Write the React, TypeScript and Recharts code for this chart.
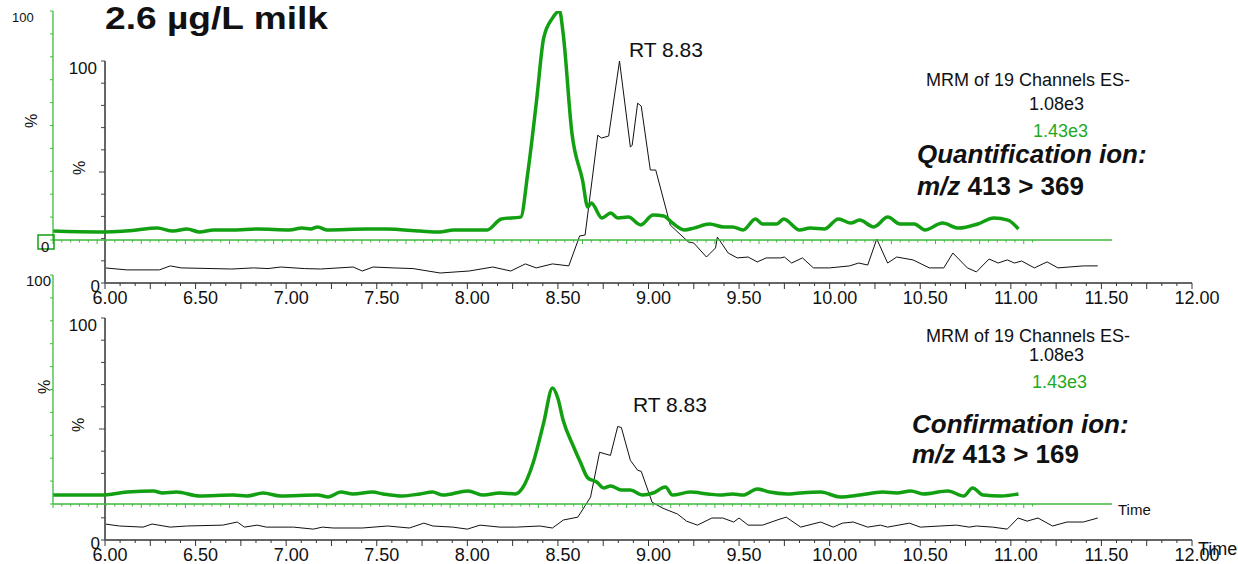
import { LineChart, Line, XAxis, YAxis } from "recharts";

const FONT = "'Liberation Sans', Arial, Helvetica, sans-serif";
const GREEN_TRACE = "#12a012";
const GREEN_AXIS = "#3dba3d";
const GREEN_TEXT = "#1faa1f";

// [time (min), % of base peak]
const quantSample: [number, number][] = [
  [6.0, 6.8], [6.12, 5.9], [6.3, 5.9], [6.36, 7.7], [6.42, 6.8], [6.7, 6.3], [6.82, 6.8],
  [6.9, 6.5], [6.97, 7.2], [7.1, 6.5], [7.19, 6.3], [7.37, 7.2], [7.42, 5.4], [7.48, 7.2],
  [7.59, 6.8], [7.7, 6.5], [7.85, 4.5], [8.01, 5.4], [8.14, 7.2], [8.24, 5.4], [8.32, 8.6],
  [8.38, 6.8], [8.47, 8.6], [8.56, 7.7], [8.62, 21.2], [8.65, 21.6], [8.72, 66.6], [8.74, 65.3],
  [8.78, 66.2], [8.84, 100], [8.9, 61.2], [8.91, 62.1], [8.94, 81], [8.96, 79.7], [9.01, 50.9],
  [9.04, 50.9], [9.12, 26.1], [9.22, 18.5], [9.25, 18], [9.32, 11.7], [9.37, 15.8], [9.38, 20.7],
  [9.44, 13.5], [9.49, 11.3], [9.55, 11.7], [9.6, 9.5], [9.65, 11.3], [9.73, 11.3], [9.75, 11.7],
  [9.79, 9.0], [9.85, 11.3], [9.91, 6.8], [10.0, 6.8], [10.11, 7.7], [10.16, 9.0], [10.21, 8.1],
  [10.26, 19.8], [10.32, 9.0], [10.37, 11.7], [10.46, 10.4], [10.55, 6.8], [10.63, 6.8],
  [10.68, 13.5], [10.76, 6.8], [10.81, 5.0], [10.88, 10.8], [10.93, 9.0], [10.98, 10.4],
  [11.02, 9.0], [11.06, 9.9], [11.13, 6.8], [11.2, 9.5], [11.26, 6.8], [11.4, 7.7], [11.48, 7.7],
];

const quantOverlay: [number, number][] = [
  [6.0, 3.9], [6.25, 3.5], [6.45, 4.2], [6.59, 5.2], [6.68, 3.9], [6.76, 4.8], [6.83, 3.5],
  [6.91, 4.4], [7.02, 4.4], [7.16, 4.8], [7.34, 4.4], [7.41, 5.2], [7.46, 4.8], [7.5, 5.7],
  [7.55, 4.4], [7.78, 4.8], [7.89, 4.8], [8.08, 3.9], [8.19, 3.5], [8.27, 4.4], [8.46, 4.4],
  [8.54, 9.2], [8.65, 10], [8.69, 29.3], [8.74, 61.1], [8.78, 88.2], [8.83, 96.9], [8.87, 100],
  [8.89, 90.4], [8.94, 46.7], [9.0, 26.2], [9.03, 14.4], [9.05, 16.2], [9.11, 9.6], [9.16, 11.8],
  [9.2, 9.6], [9.26, 10], [9.33, 6.6], [9.4, 10.9], [9.46, 10.5], [9.51, 7.4], [9.58, 4.4],
  [9.63, 5.2], [9.72, 7], [9.8, 5.7], [9.85, 5.7], [9.91, 4.4], [9.98, 9.2], [10.02, 7],
  [10.1, 7], [10.14, 9.2], [10.23, 4.4], [10.29, 5.2], [10.37, 4.8], [10.45, 9.2], [10.52, 7.4],
  [10.57, 8.7], [10.65, 5.7], [10.73, 10], [10.8, 7], [10.88, 7], [10.94, 4.4], [11.04, 7.4],
  [11.13, 5.2], [11.24, 7], [11.33, 9.6], [11.41, 8.7], [11.47, 4.8],
];

const confSample: [number, number][] = [
  [6.0, 7.2], [6.08, 6.3], [6.21, 5.8], [6.26, 7.2], [6.36, 5.8], [6.45, 6.3], [6.65, 6.7],
  [6.73, 8.1], [6.77, 5.8], [6.84, 6.7], [6.89, 5.8], [7.04, 5.8], [7.15, 4.9], [7.2, 5.8],
  [7.26, 5.4], [7.42, 5.4], [7.56, 6.3], [7.68, 5.4], [7.76, 7.6], [7.81, 6.3], [7.92, 5.8],
  [8.0, 4.9], [8.07, 6.7], [8.18, 5.8], [8.27, 5.8], [8.4, 6.3], [8.47, 5.4], [8.53, 9],
  [8.61, 10.3], [8.68, 19.3], [8.73, 39.5], [8.79, 38.1], [8.83, 51.1], [8.85, 50.7],
  [8.9, 35.9], [8.94, 31.4], [8.96, 30.9], [9.02, 17], [9.08, 14.3], [9.16, 11.7], [9.21, 8.5],
  [9.27, 6.7], [9.35, 9.9], [9.41, 9.9], [9.47, 8.1], [9.5, 9.9], [9.55, 6.7], [9.63, 6.7],
  [9.71, 9], [9.76, 10.3], [9.84, 5.8], [9.95, 8.1], [10.02, 5.8], [10.07, 7.6], [10.13, 8.1],
  [10.21, 5.8], [10.28, 6.7], [10.32, 5.8], [10.44, 7.6], [10.5, 5.8], [10.61, 6.3],
  [10.7, 6.7], [10.77, 5.8], [10.81, 6.3], [10.9, 5.8], [10.98, 4.9], [11.04, 9.9],
  [11.09, 8.5], [11.15, 9.9], [11.23, 6.3], [11.31, 8.1], [11.4, 8.1], [11.48, 9.9],
];

const confOverlay: [number, number][] = [
  [6.0, 3.9], [6.1, 3.9], [6.27, 3.9], [6.42, 5.2], [6.57, 5.7], [6.62, 4.8], [6.7, 5.2],
  [6.83, 3.5], [7.02, 3.9], [7.1, 3.5], [7.19, 4.8], [7.29, 3.5], [7.5, 3.9], [7.56, 3.1],
  [7.63, 5.2], [7.7, 4.4], [7.81, 5.2], [7.87, 4.4], [7.98, 3.5], [8.08, 4.4], [8.15, 5.2],
  [8.21, 3.9], [8.35, 5.7], [8.44, 3.9], [8.53, 4.8], [8.62, 4.4], [8.66, 7], [8.72, 17.9],
  [8.78, 35.4], [8.83, 50.7], [8.86, 46.3], [8.89, 36.7], [8.95, 24.9], [8.99, 17.9],
  [9.03, 11.4], [9.08, 9.6], [9.12, 7], [9.16, 7.9], [9.22, 6.1], [9.27, 6.1], [9.34, 3.9],
  [9.4, 4.8], [9.47, 7.4], [9.51, 3.9], [9.61, 5.2], [9.71, 4.4], [9.78, 3.9], [9.85, 4.4],
  [9.91, 3.9], [9.99, 6.6], [10.06, 5.2], [10.16, 4.4], [10.23, 4.8], [10.35, 5.2],
  [10.46, 3.1], [10.57, 3.9], [10.7, 5.2], [10.78, 4.8], [10.86, 5.7], [10.93, 4.4],
  [11.07, 5.7], [11.16, 3.5], [11.21, 7], [11.27, 3.9], [11.37, 3.5], [11.47, 4.4],
];

const timeLabels = ["6.00", "6.50", "7.00", "7.50", "8.00", "8.50", "9.00", "9.50", "10.00", "10.50", "11.00", "11.50", "12.00"];
const pctTicks = [0, 10, 20, 30, 40, 50, 60, 70, 80, 90, 100];

// minor tick positions on the two time axes
const sampleTimeTicks = Array.from({ length: 73 }, (_, i) => 6 + i / 12);
const overlayTimeTicks = Array.from({ length: 112 }, (_, i) => 6 + i / 20);

const M = 40;
const AX = 30;

const SampleXTick = (p: any) => {
  const i = Math.round((p.payload.value - 6) * 12);
  const major = i % 3 === 0;
  return (
    <g>
      <line x1={p.x} x2={p.x} y1={p.y} y2={p.y + (major ? 6 : 3)} stroke="#333" strokeWidth={1} />
      {i % 6 === 0 && (
        <text x={p.x + 5} y={p.y + 21} textAnchor="middle" fontSize={18} fontFamily={FONT} fill="#111">
          {timeLabels[i / 6]}
        </text>
      )}
    </g>
  );
};

const OverlayXTick = (p: any) => {
  const i = Math.round((p.payload.value - 6) * 20);
  return <line x1={p.x} x2={p.x} y1={p.y} y2={p.y + (i % 5 === 0 ? 4 : 2.5)} stroke={GREEN_AXIS} strokeWidth={1} />;
};

const SampleYTick = (p: any) => {
  const v = p.payload.value;
  return (
    <g>
      <line x1={p.x} x2={p.x - (v === 50 ? 6 : 4)} y1={p.y} y2={p.y} stroke="#444" strokeWidth={1} />
      {v === 100 && (
        <text x={p.x - 8} y={p.y + 13} textAnchor="end" fontSize={17} fontFamily={FONT} fill="#111">100</text>
      )}
      {v === 0 && (
        <text x={p.x - 5} y={p.y + 9} textAnchor="end" fontSize={17} fontFamily={FONT} fill="#111">0</text>
      )}
    </g>
  );
};

const OverlayYTick = (p: any) => (
  <line x1={p.x} x2={p.x - 3} y1={p.y} y2={p.y} stroke={GREEN_AXIS} strokeWidth={1} />
);

type Box = { x: number; y: number; w: number; h: number };

function Trace({ data, box, sample }: { data: [number, number][]; box: Box; sample: boolean }) {
  const rows = data.map(([t, v]) => ({ t, v }));
  return (
    <div style={{ position: "absolute", left: box.x - M, top: box.y - M }}>
      <LineChart
        width={box.w + 2 * M}
        height={box.h + 2 * M}
        data={rows}
        margin={{ top: M, right: M, bottom: M - AX, left: M - AX }}
        style={{ overflow: "visible" }}
      >
        <XAxis
          dataKey="t"
          type="number"
          domain={[6, 12]}
          allowDataOverflow
          ticks={sample ? sampleTimeTicks : overlayTimeTicks}
          interval={0}
          height={AX}
          tickSize={0}
          tickMargin={0}
          tickLine={false}
          axisLine={{ stroke: sample ? "#333" : GREEN_AXIS, strokeWidth: 1.3 }}
          tick={sample ? SampleXTick : OverlayXTick}
        />
        <YAxis
          type="number"
          domain={[0, 100]}
          allowDataOverflow
          ticks={pctTicks}
          interval={0}
          width={AX}
          tickSize={0}
          tickMargin={0}
          tickLine={false}
          axisLine={{ stroke: sample ? "#666" : GREEN_AXIS, strokeWidth: sample ? 2 : 1.3 }}
          tick={sample ? SampleYTick : OverlayYTick}
        />
        <Line
          dataKey="v"
          type={sample ? "linear" : "monotone"}
          stroke={sample ? "#111" : GREEN_TRACE}
          strokeWidth={sample ? 1 : 3.5}
          dot={false}
          isAnimationActive={false}
        />
      </LineChart>
    </div>
  );
}

const txt = { fontFamily: FONT, fill: "#111" };

export default function App() {
  return (
    <div style={{ position: "absolute", left: 0, top: 0, width: 1238, height: 564, background: "#fff", overflow: "hidden" }}>
      <Trace data={quantSample} box={{ x: 105, y: 61, w: 1087, h: 222 }} sample />
      <Trace data={quantOverlay} box={{ x: 53, y: 11, w: 1059, h: 229 }} sample={false} />
      <Trace data={confSample} box={{ x: 105, y: 318, w: 1087, h: 222 }} sample />
      <Trace data={confOverlay} box={{ x: 53, y: 275, w: 1059, h: 229 }} sample={false} />

      <svg width={1238} height={564} style={{ position: "absolute", left: 0, top: 0, pointerEvents: "none" }}>
        <text x={105} y={29} fontSize={32} fontWeight="bold" textLength={223} lengthAdjust="spacingAndGlyphs" {...txt}>2.6 µg/L milk</text>

        <text x={12} y={22} fontSize={13} {...txt}>100</text>
        <rect x={38} y={235} width={16} height={14} fill="none" stroke={GREEN_TRACE} strokeWidth={1.5} />
        <text x={41} y={252} fontSize={15} {...txt}>0</text>
        <text x={26} y={286} fontSize={15} {...txt}>100</text>

        <text transform="translate(37,121) rotate(-90)" textAnchor="middle" fontSize={16} {...txt}>%</text>
        <text transform="translate(85,168) rotate(-90)" textAnchor="middle" fontSize={16} {...txt}>%</text>
        <text transform="translate(50,387) rotate(-90)" textAnchor="middle" fontSize={16} {...txt}>%</text>
        <text transform="translate(84,425) rotate(-90)" textAnchor="middle" fontSize={16} {...txt}>%</text>

        <text x={629} y={57} fontSize={21} {...txt}>RT 8.83</text>
        <text x={633} y={412} fontSize={21} {...txt}>RT 8.83</text>

        <text x={926} y={86} fontSize={18} {...txt}>MRM of 19 Channels ES-</text>
        <text x={1029} y={110} fontSize={18} {...txt}>1.08e3</text>
        <text x={1033} y={137} fontSize={18} fontFamily={FONT} fill={GREEN_TEXT}>1.43e3</text>
        <text x={917} y={163} fontSize={26} fontWeight="bold" fontStyle="italic" {...txt}>Quantification ion:</text>
        <text x={917} y={195} fontSize={26} fontWeight="bold" {...txt}>
          <tspan fontStyle="italic">m/z</tspan> 413 &gt; 369
        </text>

        <text x={926} y={342} fontSize={18} {...txt}>MRM of 19 Channels ES-</text>
        <text x={1029} y={361} fontSize={18} {...txt}>1.08e3</text>
        <text x={1032} y={388} fontSize={18} fontFamily={FONT} fill={GREEN_TEXT}>1.43e3</text>
        <text x={912} y={433} fontSize={26} fontWeight="bold" fontStyle="italic" {...txt}>Confirmation ion:</text>
        <text x={912} y={463} fontSize={26} fontWeight="bold" {...txt}>
          <tspan fontStyle="italic">m/z</tspan> 413 &gt; 169
        </text>

        <text x={1118} y={515} fontSize={15} {...txt}>Time</text>
        <text x={1198} y={555} fontSize={18} {...txt}>Time</text>
      </svg>
    </div>
  );
}
